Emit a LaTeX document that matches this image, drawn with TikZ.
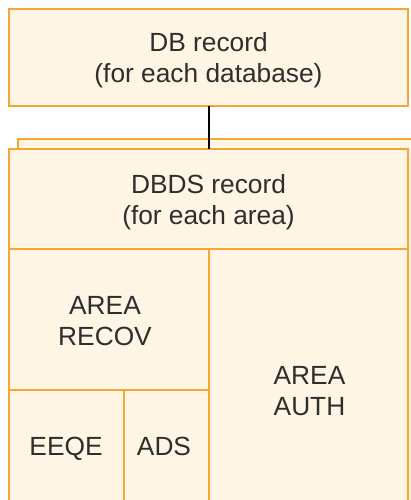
\documentclass[tikz,border=0pt]{standalone}
\usepackage{fontspec}
\setmainfont{Liberation Sans}
\definecolor{boxline}{HTML}{F5A535}
\definecolor{boxfill}{HTML}{FEF5E4}
\definecolor{txt}{HTML}{2E2E2E}
\begin{document}
\begin{tikzpicture}[x=1pt,y=-1pt,
  box/.style={draw=boxline,fill=boxfill,line width=2.2pt},
  lbl/.style={anchor=base,align=center,text=txt,inner sep=0pt,
    font=\fontsize{26.3}{31}\selectfont},
  conn/.style={draw=black,line width=1.6pt}]
\useasboundingbox (0,0) rectangle (411,500);
\clip (0,0) rectangle (411,500);
% DB record box
\path[box] (9,9) rectangle (408,106);
\coordinate (dbS) at (208.7,106);
\node[lbl] (db) at (208.5,83) {DB record\\(for each database)};
% shadow box behind DBDS
\path[box] (18,139) rectangle (420,520);
% DBDS structure
\path[box] (9,149) rectangle (408,249);
\path[box] (9,249) rectangle (209,390);
\path[box] (209,249) rectangle (408,510);
\path[box] (9,390) rectangle (124,510);
\path[box] (124,390) rectangle (209,510);
\coordinate (dbdsN) at (208.7,149);
\draw[conn] (dbS) -- (dbdsN);
\node[lbl] (dbds) at (208.5,224) {DBDS record\\(for each area)};
\node[lbl] (recov) at (105,345) {AREA\\RECOV};
\node[lbl] (auth) at (309.5,415) {AREA\\AUTH};
\node[lbl] (eeqe) at (66,455) {EEQE};
\node[lbl] (ads) at (164,455) {ADS};
\end{tikzpicture}
\end{document}
